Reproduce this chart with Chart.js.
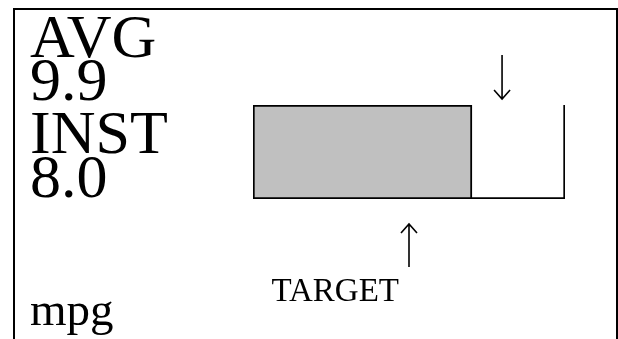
<!DOCTYPE html>
<html lang="en">
  <head>
    <meta charset="utf-8">
    <title>Fuel economy gauge</title>
    <script src="https://cdn.jsdelivr.net/npm/chart.js@4.4.0/dist/chart.umd.min.js"></script>
    <style>
      html, body { margin: 0; padding: 0; background: #fff; }
      canvas { display: block; }
    </style>
  </head>
  <body>
    <canvas id="chart" width="618" height="339"></canvas>
    <script>
      // readings shown on the left
      const readingLabels = ['AVG', 'INST'];
      const readingValues = ['9.9', '8.0'];
      const unitLabel = 'mpg';

      // gauge values
      const gaugeCategories = ['mpg'];
      const instValues = [8.0];
      const gaugeMax = [11.4];
      const avgMarker = [9.1];
      const targetValues = [5.7];
      const targetLabel = 'TARGET';

      const serif = '"Liberation Serif", "Times New Roman", serif';

      function arrow(ctx, x, y1, y2) {
        // y1 = tail, y2 = tip
        const dir = y2 > y1 ? 1 : -1;
        ctx.beginPath();
        ctx.moveTo(x, y1);
        ctx.lineTo(x, y2);
        ctx.moveTo(x - 8, y2 - dir * 9);
        ctx.lineTo(x, y2);
        ctx.lineTo(x + 8, y2 - dir * 9);
        ctx.stroke();
      }

      const gaugeDecor = {
        id: 'gaugeDecor',
        beforeDraw(chart) {
          const ctx = chart.ctx;
          ctx.save();
          ctx.fillStyle = '#fff';
          ctx.fillRect(0, 0, chart.width, chart.height);
          // frame, open at the bottom
          ctx.strokeStyle = '#000';
          ctx.lineWidth = 2;
          ctx.beginPath();
          ctx.moveTo(14, chart.height + 2);
          ctx.lineTo(14, 9);
          ctx.lineTo(617, 9);
          ctx.lineTo(617, chart.height + 2);
          ctx.stroke();
          ctx.restore();
        },
        afterDraw(chart) {
          const ctx = chart.ctx;
          const x = chart.scales.x;
          const area = chart.chartArea;
          ctx.save();
          ctx.fillStyle = '#000';
          ctx.textBaseline = 'alphabetic';
          ctx.textAlign = 'left';
          ctx.font = '62px ' + serif;
          ctx.fillText(readingLabels[0], 30, 57);
          ctx.fillText(readingValues[0], 30, 100);
          ctx.fillText(readingLabels[1], 30, 153);
          ctx.fillText(readingValues[1], 30, 197);
          ctx.font = '47px ' + serif;
          ctx.fillText(unitLabel, 30, 325);

          ctx.strokeStyle = '#000';
          ctx.lineWidth = 1.6;
          const ax = x.getPixelForValue(avgMarker[0]);
          arrow(ctx, ax, area.top - 50, area.top - 6);
          const tx = x.getPixelForValue(targetValues[0]);
          arrow(ctx, tx, area.bottom + 68, area.bottom + 25);

          ctx.font = '33px ' + serif;
          ctx.textAlign = 'right';
          ctx.fillText(targetLabel, tx - 10, 301);
          ctx.restore();
        }
      };

      const ctx = document.getElementById('chart').getContext('2d');
      const myChart = new Chart(ctx, {
        type: 'bar',
        data: {
          labels: gaugeCategories,
          datasets: [
            {
              label: 'INST',
              data: instValues,
              backgroundColor: '#c0c0c0',
              borderColor: '#000',
              borderWidth: 2,
              borderSkipped: false,
              barPercentage: 1,
              categoryPercentage: 1
            },
            {
              label: 'range',
              data: gaugeMax.map((m, i) => m - instValues[i]),
              backgroundColor: '#fff',
              borderColor: '#000',
              borderWidth: { top: 0, left: 0, right: 2, bottom: 2 },
              borderSkipped: false,
              barPercentage: 1,
              categoryPercentage: 1
            }
          ]
        },
        options: {
          indexAxis: 'y',
          responsive: false,
          animation: false,
          devicePixelRatio: 1,
          layout: {
            padding: { left: 253, right: 53, top: 105, bottom: 140 }
          },
          scales: {
            x: { stacked: true, display: false, min: 0, max: gaugeMax[0] },
            y: { stacked: true, display: false }
          },
          plugins: {
            legend: { display: false },
            tooltip: { enabled: false }
          }
        },
        plugins: [gaugeDecor]
      });
    </script>
  </body>
</html>
